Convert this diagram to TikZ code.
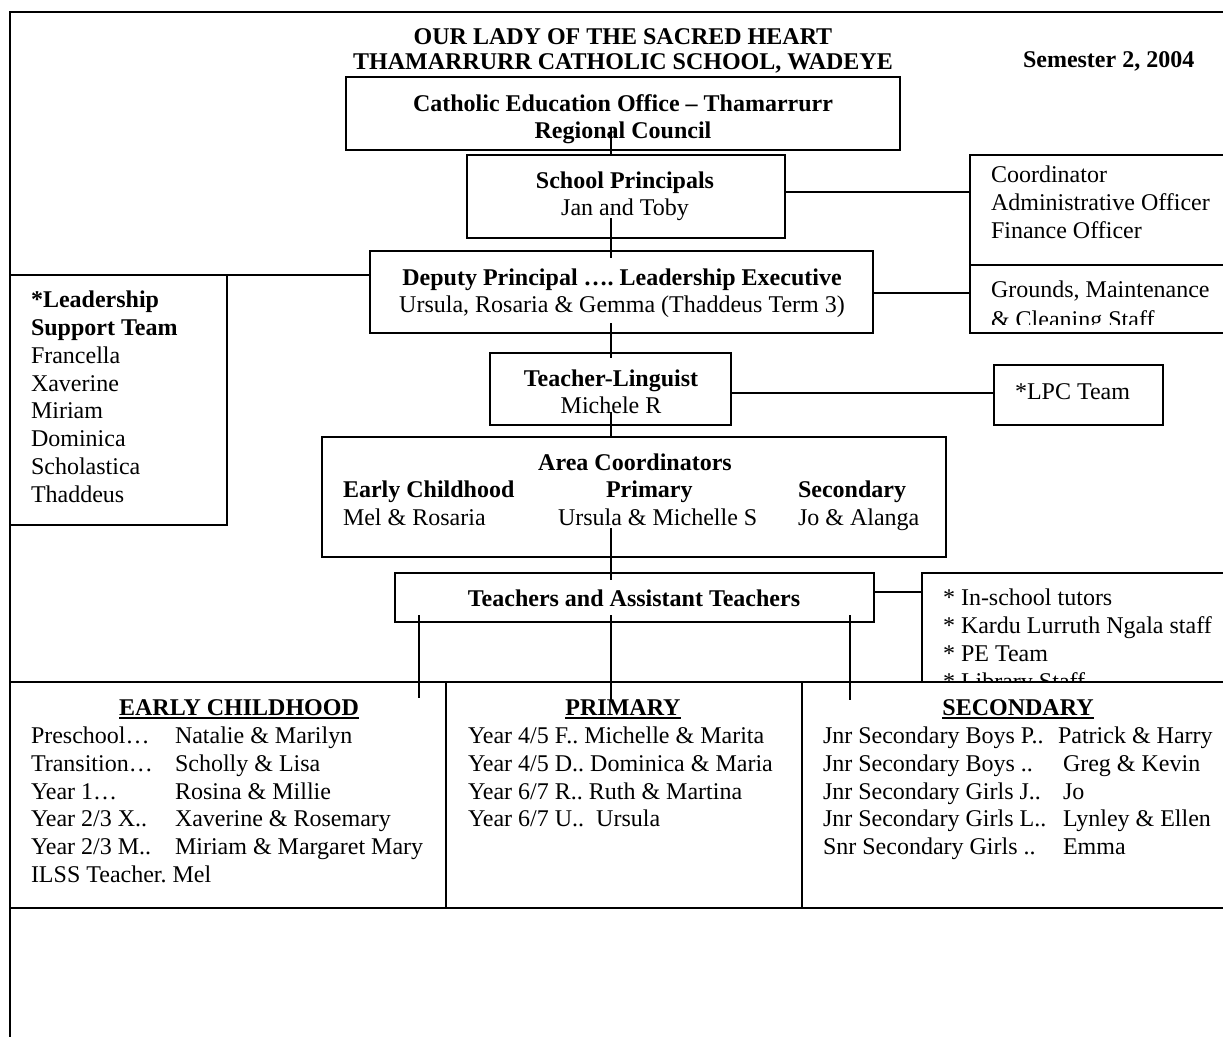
\documentclass[tikz,border=0pt]{standalone}
\usepackage{fontspec}
\setmainfont{Liberation Serif}
\usetikzlibrary{calc}
\frenchspacing
\begin{document}
\begin{tikzpicture}[x=1pt,y=-1pt,
  every node/.style={inner sep=0pt,outer sep=0pt,font=\fontsize{24}{28}\selectfont},
  bf/.style={font=\fontsize{24}{28}\selectfont\bfseries},
  box/.style={draw,line width=1.5pt,anchor=north west,rectangle},
  conn/.style={line width=1.5pt},
  tx/.style={anchor=base west},
  tc/.style={anchor=base}]
\useasboundingbox (0,0) rectangle (1223,1036);
\clip (0,0) rectangle (1223,1036);
% outer frame
\coordinate (ftr) at (1240,12);
\coordinate (ftl) at (10,12);
\coordinate (fbl) at (10,1040);
\draw[conn] (ftr) -- (ftl) -- (fbl);
% title
\node[tc,bf] (title1) at (623,44) {OUR LADY OF THE SACRED HEART};
\node[tc,bf] (title2) at (623,69) {THAMARRURR CATHOLIC SCHOOL, WADEYE};
\node[tx,bf] (sem) at (1023,67) {Semester 2, 2004};
% boxes
\node[box,minimum width=554pt,minimum height=73pt] (ceo) at (346,77) {};
\node[box,minimum width=318pt,minimum height=83pt] (prin) at (467,155) {};
\node[box,minimum width=270pt,minimum height=110pt] (coord) at (970,155) {};
\node[box,minimum width=270pt,minimum height=68pt] (grounds) at (970,265) {};
\node[box,minimum width=503pt,minimum height=82pt] (dep) at (370,251) {};
\node[box,minimum width=217pt,minimum height=250pt] (lst) at (10,275) {};
\node[box,minimum width=241pt,minimum height=72pt] (tl) at (490,353) {};
\node[box,minimum width=169pt,minimum height=60pt] (lpc) at (994,365) {};
\node[box,minimum width=624pt,minimum height=120pt] (area) at (322,437) {};
\node[box,minimum width=479pt,minimum height=49pt] (teach) at (395,573) {};
\node[box,minimum width=318pt,minimum height=109pt] (tut) at (922,573) {};
\node[box,minimum width=436pt,minimum height=226pt] (ec) at (10,682) {};
\node[box,minimum width=356pt,minimum height=226pt] (pri) at (446,682) {};
\node[box,minimum width=438pt,minimum height=226pt] (sec) at (802,682) {};
\draw[line width=2.6pt] (ec.south west) -- ($(sec.south east)+(20,0)$);
% texts in boxes
\node[tc,bf] (ceo1) at (623,111) {Catholic Education Office – Thamarrurr};
\node[tc,bf] (ceo2) at (623,138) {Regional Council};
\node[tc,bf] (prin1) at (625,188) {School Principals};
\node[tc] (prin2) at (625,215) {Jan and Toby};
\node[tx] (coord1) at (991,182) {Coordinator};
\node[tx] (coord2) at (991,210) {Administrative Officer};
\node[tx] (coord3) at (991,238) {Finance Officer};
\node[tx] (gr1) at (991,297) {Grounds, Maintenance};
\begin{scope}
\clip (970,300) rectangle (1240,324);
\node[tx] (gr2) at (991,327) {\& Cleaning Staff};
\end{scope}
\node[tc,bf] (dep1) at (622,285) {Deputy Principal …. Leadership Executive};
\node[tc] (dep2) at (622,312) {Ursula, Rosaria \& Gemma (Thaddeus Term 3)};
\node[tx,bf] (lst1) at (31,307) {*Leadership};
\node[tx,bf] (lst2) at (31,335) {Support Team};
\node[tx] (lst3) at (31,363) {Francella};
\node[tx] (lst4) at (31,391) {Xaverine};
\node[tx] (lst5) at (31,418) {Miriam};
\node[tx] (lst6) at (31,446) {Dominica};
\node[tx] (lst7) at (31,474) {Scholastica};
\node[tx] (lst8) at (31,502) {Thaddeus};
\node[tc,bf] (tl1) at (611,386) {Teacher-Linguist};
\node[tc] (tl2) at (611,413) {Michele R};
\node[tx] (lpc1) at (1015,399) {*LPC Team};
\node[tc,bf] (ar1) at (635,470) {Area Coordinators};
\node[tx,bf] (ar2) at (343,497) {Early Childhood};
\node[tx,bf] (ar3) at (606,497) {Primary};
\node[tx,bf] (ar4) at (798,497) {Secondary};
\node[tx] (ar5) at (343,525) {Mel \& Rosaria};
\node[tx] (ar6) at (558,525) {Ursula \& Michelle S};
\node[tx] (ar7) at (798,525) {Jo \& Alanga};
\node[tc,bf] (te1) at (634,606) {Teachers and Assistant Teachers};
\node[tx] (tu1) at (943,605) {* In-school tutors};
\node[tx] (tu2) at (943,633) {* Kardu Lurruth Ngala staff};
\node[tx] (tu3) at (943,661) {* PE Team};
\begin{scope}
\clip (922,573) rectangle (1240,681);
\node[tx] (tu4) at (943,689) {* Library Staff};
\end{scope}
% table headings
\node[tc,bf] (ech) at (239,715) {EARLY CHILDHOOD};
\node[tc,bf] (prh) at (623,715) {PRIMARY};
\node[tc,bf] (seh) at (1018,715) {SECONDARY};
\foreach \n in {ech,prh,seh}{
  \draw[line width=1.6pt] ($(\n.base west)+(0,3)$) -- ($(\n.base east)+(0,3)$);
}
% early childhood
\node[tx] (e1a) at (31,743) {Preschool…};
\node[tx] (e1b) at (175,743) {Natalie \& Marilyn};
\node[tx] (e2a) at (31,771) {Transition…};
\node[tx] (e2b) at (175,771) {Scholly \& Lisa};
\node[tx] (e3a) at (31,799) {Year 1…};
\node[tx] (e3b) at (175,799) {Rosina \& Millie};
\node[tx] (e4a) at (31,826) {Year 2/3 X..};
\node[tx] (e4b) at (175,826) {Xaverine \& Rosemary};
\node[tx] (e5a) at (31,854) {Year 2/3 M..};
\node[tx] (e5b) at (175,854) {Miriam \& Margaret Mary};
\node[tx] (e6a) at (31,882) {ILSS Teacher. Mel};
% primary
\node[tx] (p1) at (468,743) {Year 4/5 F.. Michelle \& Marita};
\node[tx] (p2) at (468,771) {Year 4/5 D.. Dominica \& Maria};
\node[tx] (p3) at (468,799) {Year 6/7 R.. Ruth \& Martina};
\node[tx] (p4) at (468,826) {Year 6/7 U..\ \ Ursula};
% secondary
\node[tx] (s1a) at (823,743) {Jnr Secondary Boys P..};
\node[tx] (s1b) at (1058,743) {Patrick \& Harry};
\node[tx] (s2a) at (823,771) {Jnr Secondary Boys ..};
\node[tx] (s2b) at (1063,771) {Greg \& Kevin};
\node[tx] (s3a) at (823,799) {Jnr Secondary Girls J..};
\node[tx] (s3b) at (1063,799) {Jo};
\node[tx] (s4a) at (823,826) {Jnr Secondary Girls L..};
\node[tx] (s4b) at (1063,826) {Lynley \& Ellen};
\node[tx] (s5a) at (823,854) {Snr Secondary Girls ..};
\node[tx] (s5b) at (1063,854) {Emma};
% connectors
\coordinate (spine) at (611,0);
\coordinate (lx) at (419,0);
\coordinate (rx) at (850,0);
\draw[conn] ($(ceo.south -| spine)+(0,-22)$) -- (prin.north -| spine);
\draw[conn] ($(prin.south -| spine)+(0,-20)$) -- ($(dep.north -| spine)+(0,7)$);
\draw[conn] ($(dep.south -| spine)+(0,-10)$) -- ($(tl.north -| spine)+(0,5)$);
\draw[conn] ($(tl.south -| spine)+(0,-13)$) -- (area.north -| spine);
\draw[conn] ($(area.south -| spine)+(0,-29)$) -- ($(teach.north -| spine)+(0,7)$);
\draw[conn] ($(teach.south -| spine)+(0,-7)$) -- ($(pri.north -| spine)+(0,18)$);
\draw[conn] ($(teach.south -| lx)+(0,-7)$) -- ($(ec.north -| lx)+(0,16)$);
\draw[conn] ($(teach.south -| rx)+(0,-7)$) -- ($(sec.north -| rx)+(0,18)$);
\draw[conn] ($(prin.north east)+(0,37)$) -- ($(coord.north west)+(0,37)$);
\draw[conn] ($(dep.north east)+(0,42)$) -- ($(grounds.north west)+(0,28)$);
\draw[conn] ($(dep.north west)+(0,24)$) -- (lst.north east);
\draw[conn] ($(tl.north east)+(0,40)$) -- ($(lpc.north west)+(0,28)$);
\draw[conn] ($(teach.north east)+(0,19)$) -- ($(tut.north west)+(0,19)$);
\end{tikzpicture}
\end{document}
